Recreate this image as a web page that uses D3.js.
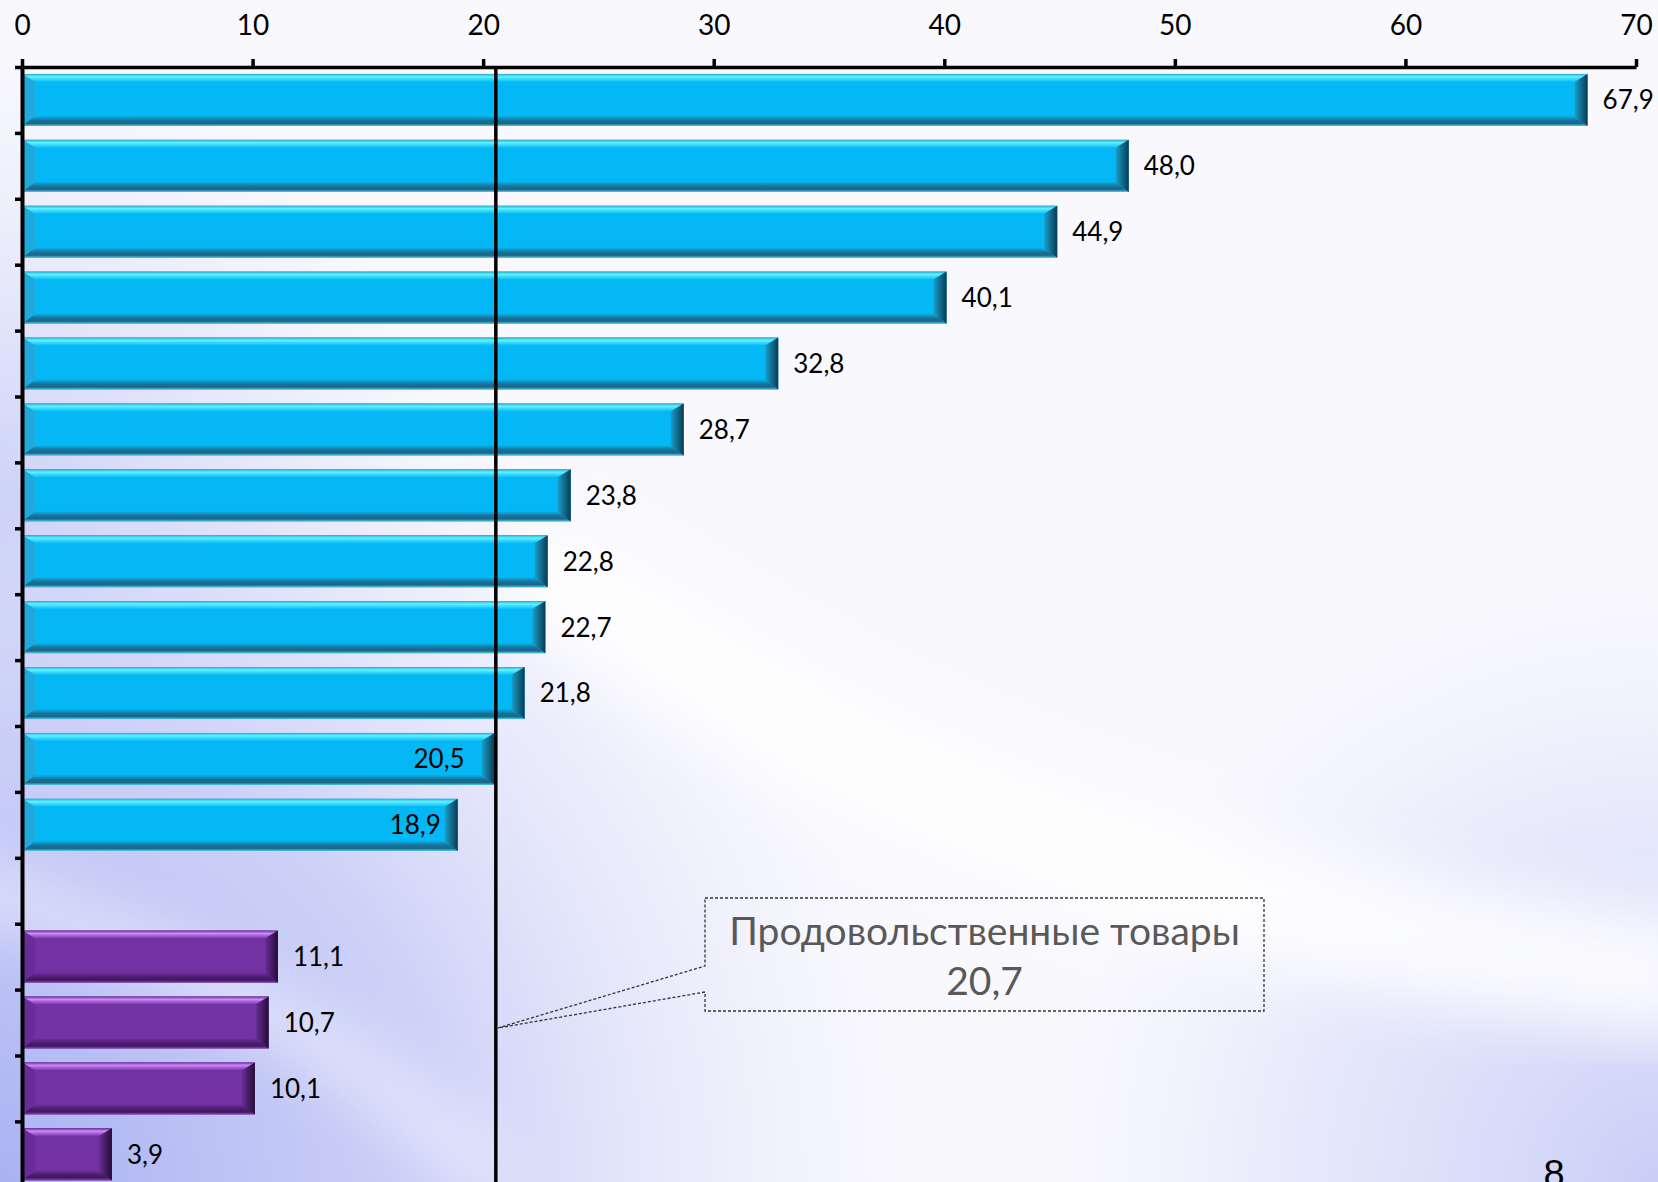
<!DOCTYPE html>
<html>
<head>
<meta charset="utf-8">
<style>
body { margin: 0; background: #fff; }
svg { display: block; font-family: Lato, "Open Sans", sans-serif; }
.axis path, .axis line { stroke: #000; }
.axis text { fill: #000; }
.valLabel { font-size: 26px; fill: #000; }
</style>
</head>
<body>
<div id="vis"></div>
<script src="https://cdn.jsdelivr.net/npm/d3@7/dist/d3.min.js"></script>
<script>
// categories (no names on the slide, the 13th slot is an empty spacer)
var categories = ["a1","a2","a3","a4","a5","a6","a7","a8","a9","a10","a11","a12","gap","b1","b2","b3","b4"];
var blueValues = [67.9, 48.0, 44.9, 40.1, 32.8, 28.7, 23.8, 22.8, 22.7, 21.8, 20.5, 18.9];
var purpleValues = [11.1, 10.7, 10.1, 3.9];
var xTicks = [0, 10, 20, 30, 40, 50, 60, 70];
var refLineValue = 20.55; // where the line sits on the slide
var refLabel = ["Продовольственные товары", "20,7"];
var insideLabels = ["a11", "a12"];
var pageNumber = "8";

var width = 1658, height = 1182;

// build rows
var rows = [];
blueValues.forEach(function(v, i) { rows.push({cat: categories[i], value: v, group: "blue"}); });
purpleValues.forEach(function(v, i) { rows.push({cat: categories[13 + i], value: v, group: "purple"}); });

var svg = d3.select("#vis").append("svg")
    .attr("width", width)
    .attr("height", height);

var defs = svg.append("defs");

// background gradients
function radial(id, cx, cy, r, stops) {
  var g = defs.append("radialGradient").attr("id", id)
      .attr("gradientUnits", "userSpaceOnUse")
      .attr("cx", cx).attr("cy", cy).attr("r", r);
  stops.forEach(function(s) {
    g.append("stop").attr("offset", s[0]).attr("stop-color", s[1]).attr("stop-opacity", s[2]);
  });
}
radial("bgBL", 0, 1182, 900, [[0, "#aab2f2", 1], [0.5, "#c3c8f6", 0.8], [1, "#dfe1fa", 0]]);
radial("bgBR", 1658, 1182, 600, [[0, "#c4c9f6", 0.9], [0.6, "#d6d9f9", 0.5], [1, "#e5e7fb", 0]]);
radial("bgL", 0, 500, 450, [[0, "#cbd0f7", 1], [1, "#e3e5fa", 0]]);
defs.append("filter").attr("id", "blur")
  .attr("x", "-20%").attr("y", "-20%").attr("width", "140%").attr("height", "140%")
  .append("feGaussianBlur").attr("stdDeviation", 30);

svg.append("rect").attr("width", width).attr("height", height).attr("fill", "#f8f8fd");
svg.append("rect").attr("width", width).attr("height", height).attr("fill", "url(#bgL)");
svg.append("rect").attr("width", width).attr("height", height).attr("fill", "url(#bgBL)");
svg.append("rect").attr("width", width).attr("height", height).attr("fill", "url(#bgBR)");
// white swooshes
svg.append("path")
    .attr("d", "M520,560 C760,700 1000,900 1700,980")
    .attr("fill", "none").attr("stroke", "#ffffff").attr("stroke-width", 120)
    .attr("opacity", 0.85).attr("filter", "url(#blur)");
svg.append("path")
    .attr("d", "M-60,880 C120,930 300,1000 500,1182")
    .attr("fill", "none").attr("stroke", "#ffffff").attr("stroke-width", 40)
    .attr("opacity", 0.6).attr("filter", "url(#blur)");

// bar gradients
function linear(id, x1, y1, x2, y2, stops) {
  var g = defs.append("linearGradient").attr("id", id)
      .attr("x1", x1).attr("y1", y1).attr("x2", x2).attr("y2", y2);
  stops.forEach(function(s) { g.append("stop").attr("offset", s[0]).attr("stop-color", s[1]); });
}
var palette = {
  blue: {face: "#03b8f5", left: "#1fa9dc"},
  purple: {face: "#7332a3", left: "#6a2c98"}
};
linear("blue-top", 0, 0, 0, 1, [[0, "#2aa6d8"], [0.35, "#5ff3ff"], [0.6, "#3fdcfb"], [1, "#08bcf6"]]);
linear("blue-bot", 0, 0, 0, 1, [[0, "#08b2ea"], [0.45, "#17729a"], [0.75, "#1d6584"], [1, "#45c9f2"]]);
linear("blue-right", 0, 0, 1, 0, [[0, "#1a9fca"], [1, "#093a52"]]);
linear("purple-top", 0, 0, 0, 1, [[0, "#6a2a98"], [0.35, "#d08cf8"], [0.6, "#a865d8"], [1, "#7636a8"]]);
linear("purple-bot", 0, 0, 0, 1, [[0, "#6f2f9f"], [0.45, "#4a1d6c"], [0.75, "#40185e"], [1, "#8a4ab8"]]);
linear("purple-right", 0, 0, 1, 0, [[0, "#6a2d98"], [1, "#240c36"]]);

// scales
var x = d3.scaleLinear().domain([0, 70]).range([22, 1636]);
var step = 65.9, top0 = 67;
var y = d3.scaleBand().domain(categories)
    .range([top0, top0 + step * categories.length])
    .paddingInner(0.21).paddingOuter(0.105);
var slot = d3.scaleLinear().domain([0, categories.length]).range(y.range());

var fmt = function(v) { return d3.format(".1f")(v).replace(".", ","); };

// bars with bevel
var bx = 13, by = 8;
var bars = svg.selectAll(".bar").data(rows).enter().append("g").attr("class", "bar");
bars.each(function(d) {
  var g = d3.select(this);
  var x0 = x(0), x1 = x(d.value), y0 = y(d.cat), h = y.bandwidth(), y1 = y0 + h;
  var c = palette[d.group];
  g.append("rect").attr("x", x0).attr("y", y0).attr("width", x1 - x0).attr("height", h).attr("fill", c.face);
  g.append("polygon").attr("fill", "url(#" + d.group + "-top)")
    .attr("points", [[x0, y0], [x1, y0], [x1 - bx, y0 + by], [x0 + bx, y0 + by]].join(" "));
  g.append("polygon").attr("fill", "url(#" + d.group + "-bot)")
    .attr("points", [[x0, y1], [x1, y1], [x1 - bx, y1 - by - 2], [x0 + bx, y1 - by - 2]].join(" "));
  g.append("polygon").attr("fill", "url(#" + d.group + "-right)")
    .attr("points", [[x1, y0], [x1, y1], [x1 - bx, y1 - by - 2], [x1 - bx, y0 + by]].join(" "));
  g.append("polygon").attr("fill", c.left)
    .attr("points", [[x0, y0], [x0, y1], [x0 + bx, y1 - by - 2], [x0 + bx, y0 + by]].join(" "));
});

// value labels
svg.selectAll(".valLabel").data(rows).enter().append("text")
    .attr("class", "valLabel")
    .attr("x", function(d) {
      if (insideLabels.indexOf(d.cat) >= 0) return x(d.value) - (d.cat === "a11" ? 30 : 17);
      return x(d.value) + 15;
    })
    .attr("y", function(d) { return y(d.cat) + y.bandwidth() / 2; })
    .attr("dy", "0.36em")
    .attr("text-anchor", function(d) { return insideLabels.indexOf(d.cat) >= 0 ? "end" : "start"; })
    .text(function(d) { return fmt(d.value); });

// reference line
svg.append("line")
    .attr("x1", x(refLineValue)).attr("x2", x(refLineValue))
    .attr("y1", top0).attr("y2", height)
    .attr("stroke", "#000").attr("stroke-width", 3.5);

// top axis
var xAxis = svg.append("g").attr("class", "axis")
    .attr("transform", "translate(0," + top0 + ")")
    .call(d3.axisTop(x).tickValues(xTicks).tickSize(8).tickSizeOuter(0).tickPadding(24).tickFormat(d3.format("d")));
xAxis.selectAll("path, line").attr("stroke-width", 3.5);
xAxis.selectAll("text").style("font-size", "28px").style("font-family", "Lato, sans-serif");

// left axis with ticks between categories
var yAxis = svg.append("g").attr("class", "axis")
    .attr("transform", "translate(" + x(0) + ",0)")
    .call(d3.axisLeft(slot).tickValues(d3.range(0, categories.length + 1)).tickSize(7).tickSizeOuter(0).tickFormat(""));
yAxis.selectAll("path, line").attr("stroke-width", 3.5);
yAxis.select("path").attr("stroke-width", 4);

// callout
var tipX = x(refLineValue) + 2, tipY = 1028;
var bL = 705, bR = 1264, bT = 898, bB = 1011;
svg.append("path")
    .attr("d", "M" + bL + "," + bT + " H" + bR + " V" + bB + " H" + bL + " V992 L" + tipX + "," + tipY + " L" + bL + ",966 Z")
    .attr("fill", "none").attr("stroke", "#333").attr("stroke-width", 1.3)
    .attr("stroke-dasharray", "3,2");
svg.selectAll(".refLabel").data(refLabel).enter().append("text")
    .attr("class", "refLabel")
    .attr("x", (bL + bR) / 2)
    .attr("y", function(d, i) { return 931 + i * 50; })
    .attr("dy", "0.35em")
    .attr("text-anchor", "middle")
    .style("font-size", "39px").style("fill", "#595959")
    .text(function(d) { return d; });

// page number (cut by the bottom edge, as on the slide)
svg.append("text")
    .attr("x", 1554).attr("y", 1187)
    .attr("text-anchor", "middle")
    .style("font-size", "38px").style("font-family", "'Liberation Sans', Arial, sans-serif")
    .text(pageNumber);
</script>
</body>
</html>
